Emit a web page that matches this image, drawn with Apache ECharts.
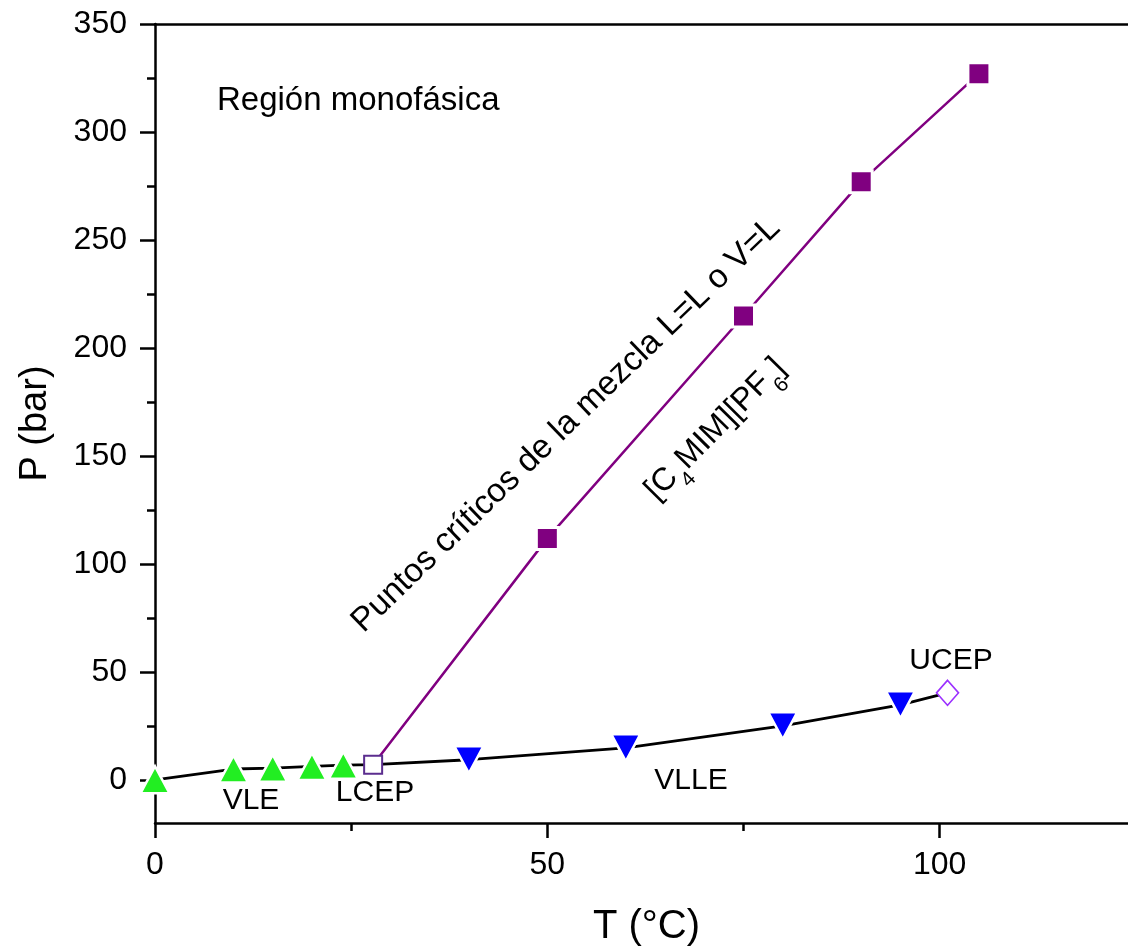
<!DOCTYPE html>
<html>
<head>
<meta charset="utf-8">
<script src="https://cdn.jsdelivr.net/npm/echarts@6/dist/echarts.min.js"></script>
<style>
  html, body { margin: 0; padding: 0; background: #fff; }
  #chart { width: 1128px; height: 951px; }
</style>
</head>
<body>
<div id="chart"></div>
<script>
// Phase diagram of CO2 + [C4MIM][PF6]: temperature (°C) vs pressure (bar)

// Vapour-liquid equilibrium points (VLE)
const vleT = [0, 10, 15, 20, 24];
const vleP = [0, 5.0, 5.4, 6.2, 6.8];

// Lower critical end point (LCEP)
const lcepT = [27.8];
const lcepP = [7.0];

// Vapour-liquid-liquid equilibrium points (VLLE)
const vlleT = [40, 60, 80, 95];
const vlleP = [9.3, 14.8, 25.0, 34.7];

// Upper critical end point (UCEP)
const ucepT = [101];
const ucepP = [40.3];

// Mixture critical points (L=L or V=L)
const critT = [50, 75, 90, 105];
const critP = [111.8, 214.8, 277.0, 327.0];

// Axis ticks
const xMajorTicks = [0, 50, 100];
const xMinorTicks = [25, 75];
const yMajorTicks = [0, 50, 100, 150, 200, 250, 300, 350];
const yMinorTicks = [25, 75, 125, 175, 225, 275, 325];

const pairs = (xs, ys) => xs.map((x, i) => [x, ys[i]]);

const FONT = 'Liberation Sans, Arial, Helvetica, sans-serif';

const boundary = [
  ...pairs(vleT, vleP),
  ...pairs(lcepT, lcepP),
  ...pairs(vlleT, vlleP),
  ...pairs(ucepT, ucepP)
];
const criticalLine = [...pairs(lcepT, lcepP), ...pairs(critT, critP)];

const chart = echarts.init(document.getElementById('chart'), null, { renderer: 'canvas' });

const axisLine = { show: true, onZero: false, lineStyle: { color: '#000', width: 2.5 } };
const tickLine = { color: '#000', width: 2.5 };
const X_MIN = 0, X_MAX = 124, Y_MIN = -20, Y_MAX = 350;

const option = {
  backgroundColor: '#fff',
  animation: false,
  grid: { left: 155, top: 24, right: 0, bottom: 128, containLabel: false, outerBoundsMode: 'none' },
  xAxis: [
    {
      type: 'value', min: X_MIN, max: X_MAX, position: 'bottom',
      axisLine: axisLine,
      axisTick: { show: true, inside: false, length: 15, customValues: xMajorTicks, lineStyle: tickLine },
      axisLabel: { show: true, fontSize: 32, fontFamily: FONT, color: '#000', margin: 26,
                   customValues: xMajorTicks },
      splitLine: { show: false },
      name: 'T (°C)', nameLocation: 'middle', nameGap: 84,
      nameTextStyle: { fontSize: 40, fontFamily: FONT, color: '#000', padding: [0, 0, 0, 10] }
    },
    {
      type: 'value', min: X_MIN, max: X_MAX, position: 'bottom',
      axisLine: { show: false, onZero: false },
      axisTick: { show: true, inside: false, length: 8, customValues: xMinorTicks, lineStyle: tickLine },
      axisLabel: { show: false }, splitLine: { show: false }
    },
    {
      type: 'value', min: X_MIN, max: X_MAX, position: 'top',
      axisLine: axisLine,
      axisTick: { show: false }, axisLabel: { show: false }, splitLine: { show: false }
    }
  ],
  yAxis: [
    {
      type: 'value', min: Y_MIN, max: Y_MAX, position: 'left',
      axisLine: axisLine,
      axisTick: { show: true, inside: false, length: 15, customValues: yMajorTicks, lineStyle: tickLine },
      axisLabel: { show: true, fontSize: 32, fontFamily: FONT, color: '#000', margin: 28,
                   customValues: yMajorTicks },
      splitLine: { show: false },
      name: 'P (bar)', nameLocation: 'middle', nameGap: 100,
      nameTextStyle: { fontSize: 38, fontFamily: FONT, color: '#000' }
    },
    {
      type: 'value', min: Y_MIN, max: Y_MAX, position: 'left',
      axisLine: { show: false, onZero: false },
      axisTick: { show: true, inside: false, length: 8, customValues: yMinorTicks, lineStyle: tickLine },
      axisLabel: { show: false }, splitLine: { show: false }
    }
  ],
  series: [
    {
      name: 'boundary', type: 'line', data: boundary, symbol: 'none',
      lineStyle: { color: '#000', width: 2.8 }, z: 2
    },
    {
      name: 'critical', type: 'line', data: criticalLine, symbol: 'none',
      lineStyle: { color: '#800080', width: 2.5 }, z: 2
    },
    {
      name: 'VLE', type: 'scatter', data: pairs(vleT, vleP),
      symbol: 'triangle', symbolSize: [29, 27],
      itemStyle: { color: '#22ee22', borderColor: '#fff', borderWidth: 2.5, opacity: 1 }, z: 3
    },
    {
      name: 'VLLE', type: 'scatter', data: pairs(vlleT, vlleP),
      symbol: 'triangle', symbolRotate: 180, symbolSize: [29, 27],
      itemStyle: { color: '#0000ff', borderColor: '#fff', borderWidth: 2.5, opacity: 1 }, z: 3
    },
    {
      name: 'critical points', type: 'scatter', data: pairs(critT, critP),
      symbol: 'rect', symbolSize: 22,
      itemStyle: { color: '#800080', borderColor: '#fff', borderWidth: 3, opacity: 1 }, z: 3
    },
    {
      name: 'LCEP', type: 'scatter', data: pairs(lcepT, lcepP),
      symbol: 'rect', symbolSize: 18,
      itemStyle: { color: '#fff', borderColor: '#5b2d8e', borderWidth: 2, opacity: 1 }, z: 4
    },
    {
      name: 'UCEP', type: 'scatter', data: pairs(ucepT, ucepP),
      symbol: 'diamond', symbolSize: [22, 25],
      itemStyle: { color: '#fff', borderColor: '#9b30ff', borderWidth: 1.6, opacity: 1 }, z: 4
    }
  ],
  graphic: [
    { type: 'text', x: 217, y: 101,
      style: { text: 'Región monofásica', fontSize: 33, fontFamily: FONT, fill: '#000',
               textAlign: 'left', textVerticalAlign: 'middle' } },
    { type: 'text', x: 251, y: 801,
      style: { text: 'VLE', fontSize: 30, fontFamily: FONT, fill: '#000',
               textAlign: 'center', textVerticalAlign: 'middle' } },
    { type: 'text', x: 375, y: 793,
      style: { text: 'LCEP', fontSize: 30, fontFamily: FONT, fill: '#000',
               textAlign: 'center', textVerticalAlign: 'middle' } },
    { type: 'text', x: 691, y: 781,
      style: { text: 'VLLE', fontSize: 30, fontFamily: FONT, fill: '#000',
               textAlign: 'center', textVerticalAlign: 'middle' } },
    { type: 'text', x: 951, y: 661,
      style: { text: 'UCEP', fontSize: 30, fontFamily: FONT, fill: '#000',
               textAlign: 'center', textVerticalAlign: 'middle' } },
    { type: 'text', x: 566, y: 425, rotation: 44 * Math.PI / 180,
      style: { text: 'Puntos críticos de la mezcla L=L o V=L', fontSize: 33.5, fontFamily: FONT,
               fill: '#000', textAlign: 'center', textVerticalAlign: 'middle' } },
    { type: 'text', x: 716, y: 430, rotation: 45.5 * Math.PI / 180,
      style: { text: '{m|[C}{s|4}{m|MIM][PF}{s|6}{m|]}', fontFamily: FONT, fill: '#000',
               textAlign: 'center', textVerticalAlign: 'middle',
               rich: {
                 m: { fontSize: 32, fontFamily: FONT, lineHeight: 34, verticalAlign: 'top', fill: '#000' },
                 s: { fontSize: 21, fontFamily: FONT, lineHeight: 21, verticalAlign: 'top',
                      padding: [22, 0, 0, 0], fill: '#000' }
               } } }
  ]
};

chart.setOption(option);
</script>
</body>
</html>
